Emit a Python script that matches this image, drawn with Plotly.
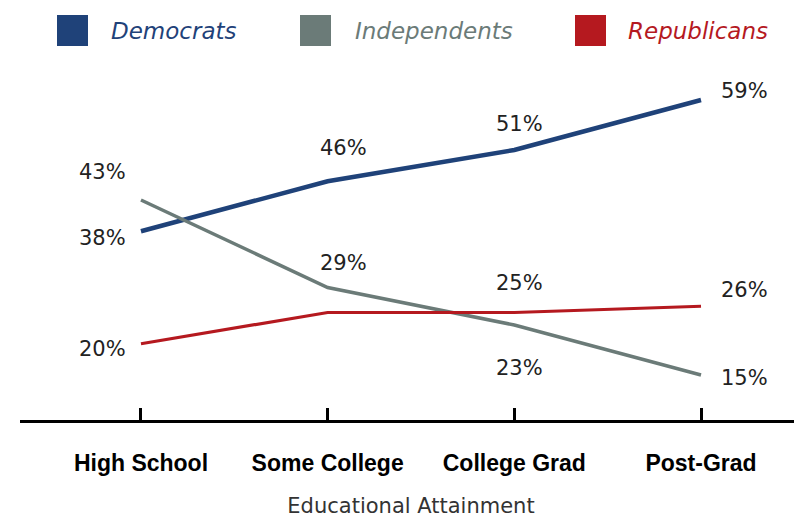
import plotly.graph_objects as go

categories = ["High School", "Some College", "College Grad", "Post-Grad"]
democrats = [38, 46, 51, 59]
independents = [43, 29, 23, 15]
republicans = [20, 25, 25, 26]
series_names = ["Democrats", "Independents", "Republicans"]
axis_title = "Educational Attainment"

colors = {"Democrats": "#1f4279", "Independents": "#6b7b78", "Republicans": "#b5191f"}
widths = {"Democrats": 4.5, "Independents": 3.5, "Republicans": 3.2}
series = {"Democrats": democrats, "Independents": independents, "Republicans": republicans}

# which points get a value label, with pixel offsets (style only)
label_offsets = {
    "Democrats": [(-38, -7), (16, 33), (5, 26), (43, 9)],
    "Independents": [(-38, 28), (16, 25), (5, -43), (43, -3)],
    "Republicans": [(-38, -5), None, (5, 30), (43, 16)],
}

# page offset of the plot div (body margin)
OFF = 8
W, H = 802 - OFF, 518 - OFF
L, R, T, B = 20 - OFF, 0, 50 - OFF, 98

xs = list(range(len(categories)))
fig = go.Figure()
for name in series_names:
    fig.add_trace(go.Scatter(
        x=xs, y=series[name], mode="lines", name=name,
        line=dict(color=colors[name], width=widths[name]),
        showlegend=False, hoverinfo="skip",
    ))

annotations = []
for name in series_names:
    for i, v in enumerate(series[name]):
        off = label_offsets[name][i]
        if off is None:
            continue
        annotations.append(dict(
            x=xs[i], y=v, xref="x", yref="y", text=f"{v}%", showarrow=False,
            xshift=off[0], yshift=off[1], xanchor="center", yanchor="middle",
            font=dict(family="DejaVu Sans", size=21, color="#222222"),
        ))

plot_w = W - L - R
plot_h = H - T - B


def px_x(px):
    return (px - OFF - L) / plot_w


def px_y(py):
    return (H - B - (py - OFF)) / plot_h


legend_sq_left = {"Democrats": 57, "Independents": 300, "Republicans": 575}
legend_txt_left = {"Democrats": 109, "Independents": 353, "Republicans": 626}
shapes = []
for name in series_names:
    x0 = legend_sq_left[name]
    shapes.append(dict(type="rect", xref="paper", yref="paper",
                       x0=px_x(x0), x1=px_x(x0 + 31), y0=px_y(46), y1=px_y(15),
                       fillcolor=colors[name], line=dict(width=0)))
    annotations.append(dict(
        x=px_x(legend_txt_left[name]), y=px_y(31), xref="paper", yref="paper",
        text=f"<i>{name}</i>", showarrow=False, xanchor="left", yanchor="middle",
        font=dict(family="DejaVu Sans", size=23, color=colors[name]),
    ))

fig.update_layout(
    width=W, height=H, margin=dict(l=L, r=R, t=T, b=B),
    paper_bgcolor="white", plot_bgcolor="white",
    shapes=shapes, annotations=annotations,
    xaxis=dict(
        range=[-0.648, 3.541], tickmode="array", tickvals=xs, ticktext=categories,
        showgrid=False, zeroline=False, showline=True, linecolor="black", linewidth=3,
        ticks="inside", ticklen=12, tickwidth=3, tickcolor="black",
        tickfont=dict(family="Liberation Sans", size=23, color="black", weight="bold"),
        ticklabelstandoff=20,
        title=dict(text=axis_title, standoff=25,
                   font=dict(family="DejaVu Sans", size=21, color="#333333")),
        fixedrange=True,
    ),
    yaxis=dict(range=[7.8, 67], visible=False, fixedrange=True),
)

fig.write_html("out.html")
